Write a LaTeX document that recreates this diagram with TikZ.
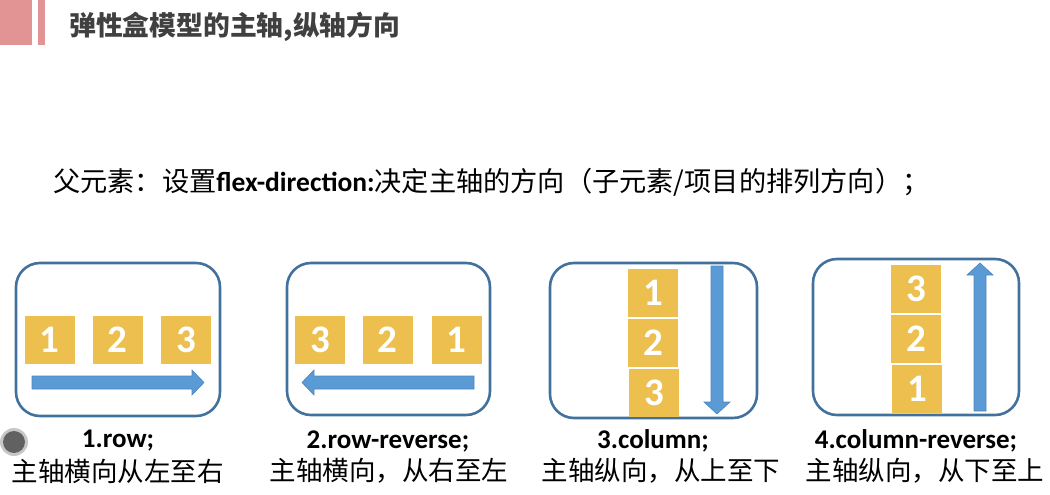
\documentclass[tikz,border=0pt]{standalone}
\usepackage{fontspec}
\setmainfont{Carlito}
\newfontfamily\cjk{Noto Sans CJK SC}
\definecolor{pinkbar}{HTML}{E29494}
\definecolor{titlegray}{HTML}{404040}
\definecolor{boxblue}{HTML}{41719C}
\definecolor{itemyellow}{HTML}{ECBF4F}
\definecolor{arrowblue}{HTML}{5B9BD5}
\definecolor{arrowedge}{HTML}{4F84BE}
\tikzset{
  container/.style={draw=boxblue, line width=2.6pt, rounded corners=24pt},
  item/.style={fill=itemyellow, text=white, minimum width=50pt, minimum height=48pt, inner sep=0pt, font=\bfseries\fontsize{39}{39}\selectfont},
  blockarrow/.style={fill=arrowblue, draw=arrowedge, line width=0.6pt},
  modename/.style={font=\bfseries\fontsize{27}{27}\selectfont, text=black},
  modedesc/.style={font=\cjk\fontsize{26.5}{26.5}\selectfont, text=black},
}
\begin{document}
\begin{tikzpicture}[x=1pt,y=-1pt]
\useasboundingbox (0,0) rectangle (1050,495);
% title bar
\fill[pinkbar] (0,0) rectangle (32,45);
\fill[pinkbar] (38,0) rectangle (45,45);
\node[anchor=west, text=titlegray, font=\cjk\bfseries\fontsize{26.8}{26.8}\selectfont, inner sep=0pt] (title) at (69,27) {弹性盒模型的主轴,纵轴方向};
% subtitle
\node[anchor=west, inner sep=0pt, font=\cjk\fontsize{27.2}{27.2}\selectfont] (sub) at (53,182) {父元素：设置{\fontspec{Carlito}\bfseries\fontsize{27.5}{27.5}\selectfont flex-direction:}决定主轴的方向（子元素/项目的排列方向）；};
% containers
\node[container, minimum width=204pt, minimum height=153pt] (b1) at (118,339.5) {};
\node[container, minimum width=203pt, minimum height=152pt] (b2) at (388.5,339) {};
\node[container, minimum width=207pt, minimum height=155pt] (b3) at (653.5,340.5) {};
\node[container, minimum width=206pt, minimum height=156pt] (b4) at (916,337) {};
% box 1 items
\node[item] (r1) at (49.5,339.5) {1};
\node[item] (r2) at (117.5,339.5) {2};
\node[item] (r3) at (186,339.5) {3};
\draw[blockarrow] (32,376)--(192,376)--(192,370)--(204,382.5)--(192,395)--(192,389)--(32,389)--cycle;
% box 2 items
\node[item] (rr3) at (320,339.5) {3};
\node[item] (rr2) at (387.5,339.5) {2};
\node[item] (rr1) at (456.5,339.5) {1};
\draw[blockarrow] (474,376)--(314,376)--(314,370)--(302,382.5)--(314,395)--(314,389)--(474,389)--cycle;
% box 3 items
\node[item] (c1) at (653,293) {1};
\node[item] (c2) at (653,342.5) {2};
\node[item] (c3) at (654,393) {3};
\draw[blockarrow] (711,266)--(723,266)--(723,402)--(730,402)--(717,414)--(704,402)--(711,402)--cycle;
% box 4 items
\node[item] (cr3) at (916,289) {3};
\node[item] (cr2) at (916,339) {2};
\node[item] (cr1) at (917,389) {1};
\draw[blockarrow] (974,411)--(986,411)--(986,275)--(993,275)--(980,263)--(967,275)--(974,275)--cycle;
% labels
\node[modename] (n1) at (118,441) {1.row;};
\node[modedesc] (d1) at (118,471) {主轴横向从左至右};
\node[modename] (n2) at (388,441) {2.row-reverse;};
\node[modedesc] (d2) at (389,471) {主轴横向，从右至左};
\node[modename] (n3) at (653,441) {3.column;};
\node[modedesc] (d3) at (661,471) {主轴纵向，从上至下};
\node[modename] (n4) at (916,441) {4.column-reverse;};
\node[modedesc] (d4) at (925,471) {主轴纵向，从下至上};
% cursor dot
\fill[black!22] (14,442) circle (14);
\fill[black!62] (14,442) circle (11);
\end{tikzpicture}
\end{document}
